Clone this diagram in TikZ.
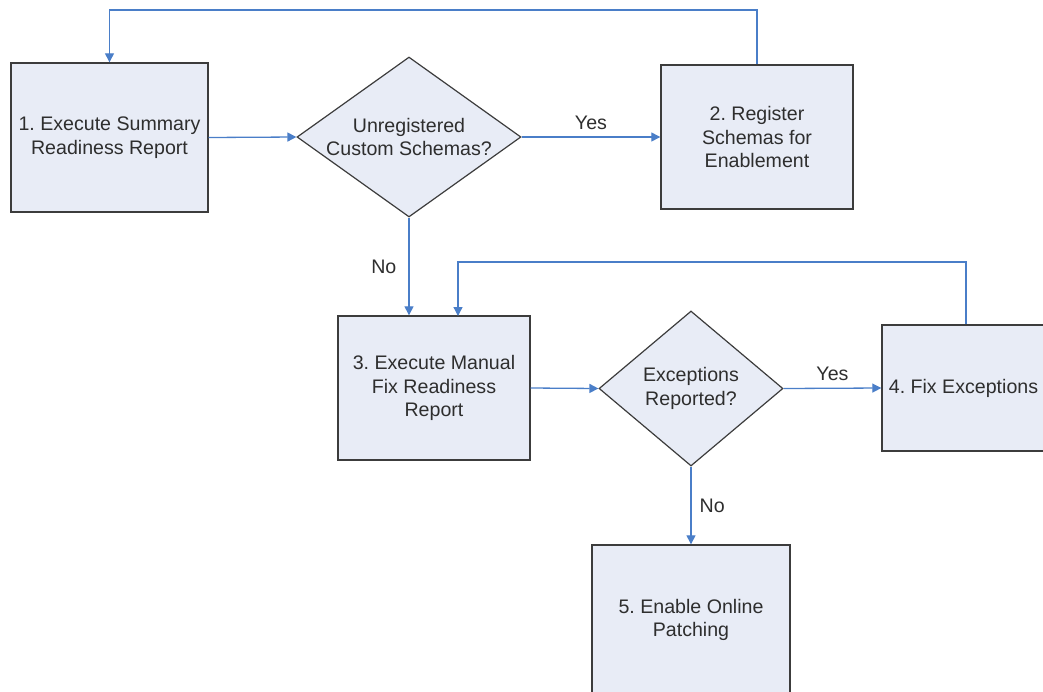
\documentclass[tikz,border=0pt]{standalone}
\usepackage{fontspec}
\setmainfont{Liberation Sans}
\usetikzlibrary{shapes.geometric,arrows.meta}
\frenchspacing
\definecolor{boxfill}{HTML}{E8ECF6}
\definecolor{boxline}{HTML}{3C3C3C}
\definecolor{flow}{HTML}{4A7EC8}
\definecolor{txt}{HTML}{2E2E2E}
\tikzset{
  stepbox/.style={draw=boxline, line width=1.4pt, fill=boxfill, inner sep=0pt,
    text=txt, align=center, font=\fontsize{19.6}{23.5}\selectfont},
  decision/.style={diamond, draw=boxline, line width=1.2pt, fill=boxfill, inner sep=0pt,
    aspect=1.4, text=txt, align=center, font=\fontsize{19.6}{23.5}\selectfont},
  flowline/.style={draw=flow, line width=1.3pt, -{Triangle[width=9pt,length=9pt]}},
  lbl/.style={text=txt, font=\fontsize{19.6}{23.5}\selectfont, inner sep=0pt}
}
\begin{document}
\begin{tikzpicture}[x=1pt,y=-1pt]
\useasboundingbox (0,0) rectangle (1043,691);
% nodes
\node[stepbox, minimum width=197pt, minimum height=149pt] (b1) at (109.5,137.5)
  {1. Execute Summary\\Readiness Report};
\node[decision, minimum width=224pt, minimum height=160pt] (d1) at (409,137)
  {Unregistered\\Custom Schemas?};
\node[stepbox, minimum width=192pt, minimum height=144pt] (b2) at (757,137)
  {2. Register\\Schemas for\\Enablement};
\node[stepbox, minimum width=192pt, minimum height=144pt] (b3) at (434,388)
  {3. Execute Manual\\Fix Readiness\\Report};
\node[decision, minimum width=184pt, minimum height=155pt] (d2) at (691,388.5)
  {Exceptions\\Reported?};
\node[stepbox, minimum width=163pt, minimum height=126pt] (b4) at (963.5,388)
  {4. Fix Exceptions};
\node[stepbox, minimum width=198pt, minimum height=150pt] (b5) at (691,620)
  {5. Enable Online\\Patching};
% helper coordinates
\coordinate (t1) at (757,10);
\coordinate (t2) at (966,262);
\coordinate (e3) at (458,316);
% connectors
\draw[flowline] (b1.east) -- (d1.west);
\draw[flowline] (d1.east) -- node[lbl, above=7pt] (yes1) {Yes} (b2.west);
\draw[flowline] (b2.north) -- (t1) -| (b1.north);
\draw[flowline] (d1.south) -- node[lbl, left=12pt, pos=0.5] (no1) {No} (d1.south |- b3.north);
\draw[flowline] (t2 |- b4.north) -- (t2) -| (e3);
\draw[flowline] (b3.east) -- (d2.west);
\draw[flowline] (d2.east) -- node[lbl, above=7pt] (yes2) {Yes} (b4.west);
\draw[flowline] (d2.south) -- node[lbl, right=8pt, pos=0.5] (no2) {No} (b5.north);
\end{tikzpicture}
\end{document}
